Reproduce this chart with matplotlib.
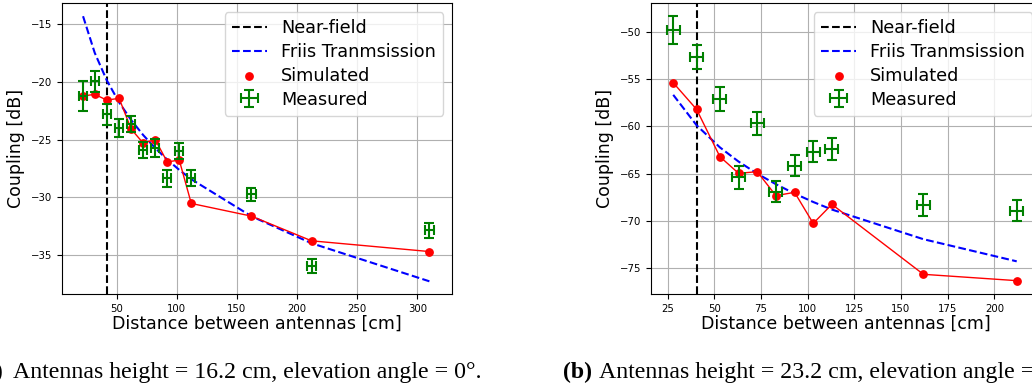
# plot.py
#
# Antenna coupling vs distance, two heights.
# Simulated / measured coupling compared against Friis transmission.

import numpy as np
import matplotlib
matplotlib.use("Agg")
import matplotlib.pyplot as plt

# ---- Data: (a) height 16.2 cm ------------------------------------------

dist_a = [22, 31.7, 41.7, 52, 62, 72, 82, 92, 102, 112, 162, 212, 310]
sim_a = [-21.22, -21.07, -21.57, -21.42, -24.08, -25.30, -25.00,
         -26.93, -26.77, -30.53, -31.63, -33.77, -34.70]
meas_a = [-21.19, -19.95, -22.80, -24.02, -23.63, -25.90, -25.73,
          -28.36, -25.99, -28.33, -29.75, -35.96, -32.84]
meas_err_a = [1.30, 0.90, 0.91, 0.78, 0.68, 0.72, 0.75,
              0.72, 0.72, 0.69, 0.58, 0.58, 0.65]
friis_a = [-14.30, -17.47, -19.85, -21.77, -23.30, -24.60, -25.73,
           -26.73, -27.62, -28.43, -31.64, -33.98, -37.28]
near_field_a = 41.7

# ---- Data: (b) height 23.2 cm ------------------------------------------

dist_b = [28, 40.5, 53, 63, 73, 83, 93, 103, 113, 162, 212]
sim_b = [-55.39, -58.20, -63.20, -64.96, -64.79, -67.32, -66.97,
         -70.25, -68.24, -75.63, -76.30]
meas_b = [-49.82, -52.64, -57.11, -65.39, -59.68, -66.90, -64.15,
          -62.67, -62.39, -68.30, -68.90]
meas_err_b = [1.44, 1.27, 1.23, 1.18, 1.20, 1.11, 1.14,
              1.14, 1.14, 1.16, 1.14]
friis_b = [-56.67, -59.88, -62.22, -63.72, -65.00, -66.11, -67.10,
           -67.99, -68.79, -71.92, -74.26]
near_field_b = 40.5

dist_err = 3.5  # cm, horizontal uncertainty on measured distance

caption_a = "Antennas height = 16.2 cm, elevation angle = 0°."
caption_b = "Antennas height = 23.2 cm, elevation angle = 0°."


# ---- Plotting ----------------------------------------------------------

def plot_panel(ax, dist, sim, meas, meas_err, friis, near_field,
               xlim, ylim, xticks, yticks):
    nf = ax.axvline(near_field, color="black", ls="--", lw=1.5)
    fr, = ax.plot(dist, friis, color="blue", ls="--", lw=1.5)
    ax.plot(dist, sim, color="red", lw=1.0)
    sc = ax.scatter(dist, sim, color="red", s=28, zorder=3)
    eb = ax.errorbar(dist, meas, yerr=meas_err, xerr=dist_err, fmt="none",
                     ecolor="green", elinewidth=1.5, capsize=3.3,
                     capthick=1.5, zorder=4)

    ax.set_xlim(*xlim)
    ax.set_ylim(*ylim)
    ax.set_xticks(xticks)
    ax.set_yticks(yticks)
    ax.tick_params(labelsize=7.3)
    ax.grid(True, color="#b0b0b0", lw=0.8)
    ax.set_axisbelow(True)
    ax.set_xlabel("Distance between antennas [cm]", fontsize=12.5, labelpad=0.5)
    ax.set_ylabel("Coupling [dB]", fontsize=12.5, labelpad=4)

    ax.legend([nf, fr, sc, eb],
              ["Near-field", "Friis Tranmsission", "Simulated", "Measured"],
              loc="upper right", fontsize=12.7, labelspacing=0.33)


fig = plt.figure(figsize=(10.32, 3.87), dpi=100)
W, H = 1032.0, 387.0

ax1 = fig.add_axes([62 / W, 1 - 294 / H, 390 / W, 290.7 / H])
ax2 = fig.add_axes([651 / W, 1 - 294 / H, 390 / W, 290.7 / H])

plot_panel(ax1, dist_a, sim_a, meas_a, meas_err_a, friis_a, near_field_a,
           xlim=(4.5, 328.8), ylim=(-38.38, -13.18),
           xticks=[50, 100, 150, 200, 250, 300],
           yticks=[-35, -30, -25, -20, -15])
plot_panel(ax2, dist_b, sim_b, meas_b, meas_err_b, friis_b, near_field_b,
           xlim=(16.1, 225.0), ylim=(-77.71, -47.0),
           xticks=[25, 50, 75, 100, 125, 150, 175, 200],
           yticks=[-75, -70, -65, -60, -55, -50])

# ---- Captions (page crop cuts them at the edges) -----------------------

cap_y = 1 - 378 / H
serif = "Liberation Serif"
cap_fs = 17.2
fig.text(3 / W, cap_y, "(a)", ha="right", va="baseline", fontsize=cap_fs,
         family=serif, weight="bold")
fig.text(13 / W, cap_y, caption_a, ha="left", va="baseline", fontsize=cap_fs,
         family=serif)
fig.text(563 / W, cap_y, "(b)", ha="left", va="baseline", fontsize=cap_fs,
         family=serif, weight="bold")
fig.text(599 / W, cap_y, caption_b, ha="left", va="baseline", fontsize=cap_fs,
         family=serif)

fig.savefig("out.png", dpi=100)
